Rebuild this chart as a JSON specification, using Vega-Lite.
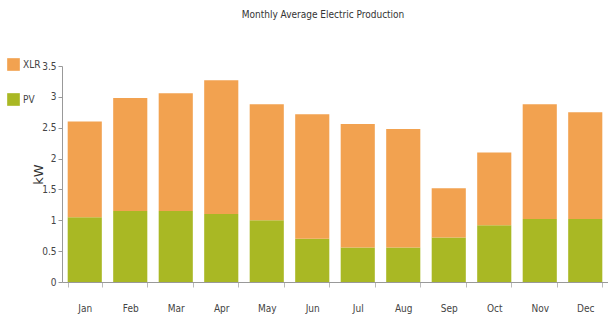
{
  "$schema": "https://vega.github.io/schema/vega-lite/v6.json",
  "autosize": "none",
  "width": 546,
  "height": 216,
  "padding": {"left": 62, "top": 66, "right": 0, "bottom": 39},
  "background": "white",
  "config": {"view": {"stroke": null}},
  "title": {
    "text": "Monthly Average Electric Production",
    "font": "DejaVu Sans Condensed, Liberation Sans Narrow, sans-serif",
    "fontSize": 10,
    "fontWeight": "normal",
    "color": "#333333",
    "offset": 38,
    "dx": -12
  },
  "data": {
    "values": [
      {"month": "Jan", "series": "PV", "value": 1.05, "ord": 1},
      {"month": "Jan", "series": "XLR", "value": 1.55, "ord": 2},
      {"month": "Feb", "series": "PV", "value": 1.15, "ord": 1},
      {"month": "Feb", "series": "XLR", "value": 1.83, "ord": 2},
      {"month": "Mar", "series": "PV", "value": 1.15, "ord": 1},
      {"month": "Mar", "series": "XLR", "value": 1.91, "ord": 2},
      {"month": "Apr", "series": "PV", "value": 1.1, "ord": 1},
      {"month": "Apr", "series": "XLR", "value": 2.17, "ord": 2},
      {"month": "May", "series": "PV", "value": 1.0, "ord": 1},
      {"month": "May", "series": "XLR", "value": 1.88, "ord": 2},
      {"month": "Jun", "series": "PV", "value": 0.7, "ord": 1},
      {"month": "Jun", "series": "XLR", "value": 2.02, "ord": 2},
      {"month": "Jul", "series": "PV", "value": 0.56, "ord": 1},
      {"month": "Jul", "series": "XLR", "value": 2.0, "ord": 2},
      {"month": "Aug", "series": "PV", "value": 0.56, "ord": 1},
      {"month": "Aug", "series": "XLR", "value": 1.92, "ord": 2},
      {"month": "Sep", "series": "PV", "value": 0.72, "ord": 1},
      {"month": "Sep", "series": "XLR", "value": 0.8, "ord": 2},
      {"month": "Oct", "series": "PV", "value": 0.92, "ord": 1},
      {"month": "Oct", "series": "XLR", "value": 1.18, "ord": 2},
      {"month": "Nov", "series": "PV", "value": 1.02, "ord": 1},
      {"month": "Nov", "series": "XLR", "value": 1.86, "ord": 2},
      {"month": "Dec", "series": "PV", "value": 1.02, "ord": 1},
      {"month": "Dec", "series": "XLR", "value": 1.73, "ord": 2}
    ]
  },
  "mark": {"type": "bar"},
  "encoding": {
    "x": {
      "field": "month",
      "type": "nominal",
      "sort": null,
      "scale": {"paddingInner": 0.25, "paddingOuter": 0.125},
      "axis": {
        "title": null,
        "labelAngle": 0,
        "labelFont": "DejaVu Sans Condensed, Liberation Sans Narrow, sans-serif",
        "labelFontSize": 10,
        "labelColor": "#444444",
        "labelPadding": 16,
        "tickBand": "extent",
        "tickSize": 5,
        "tickColor": "#bbbbbb",
        "domainColor": "#999999"
      }
    },
    "y": {
      "field": "value",
      "type": "quantitative",
      "stack": "zero",
      "scale": {"domain": [0, 3.5], "nice": false},
      "axis": {
        "title": "kW",
        "titleFont": "DejaVu Sans, sans-serif",
        "titleFontSize": 13,
        "titleFontWeight": "normal",
        "titleColor": "#333333",
        "titlePadding": -4,
        "values": [0, 0.5, 1, 1.5, 2, 2.5, 3, 3.5],
        "format": "~g",
        "grid": false,
        "labelFont": "DejaVu Sans Condensed, Liberation Sans Narrow, sans-serif",
        "labelFontSize": 10,
        "labelColor": "#444444",
        "tickSize": 4,
        "tickColor": "#999999",
        "domainColor": "#999999"
      }
    },
    "color": {
      "field": "series",
      "type": "nominal",
      "scale": {"domain": ["XLR", "PV"], "range": ["#F2A250", "#A9B824"]},
      "legend": {
        "title": null,
        "orient": "none",
        "legendX": -55,
        "legendY": -8,
        "symbolType": "square",
        "symbolSize": 160,
        "symbolStrokeWidth": 0,
        "rowPadding": 22,
        "labelFont": "DejaVu Sans Condensed, Liberation Sans Narrow, sans-serif",
        "labelFontSize": 10,
        "labelColor": "#444444",
        "labelOffset": 3
      }
    },
    "order": {"field": "ord", "type": "quantitative"}
  }
}
